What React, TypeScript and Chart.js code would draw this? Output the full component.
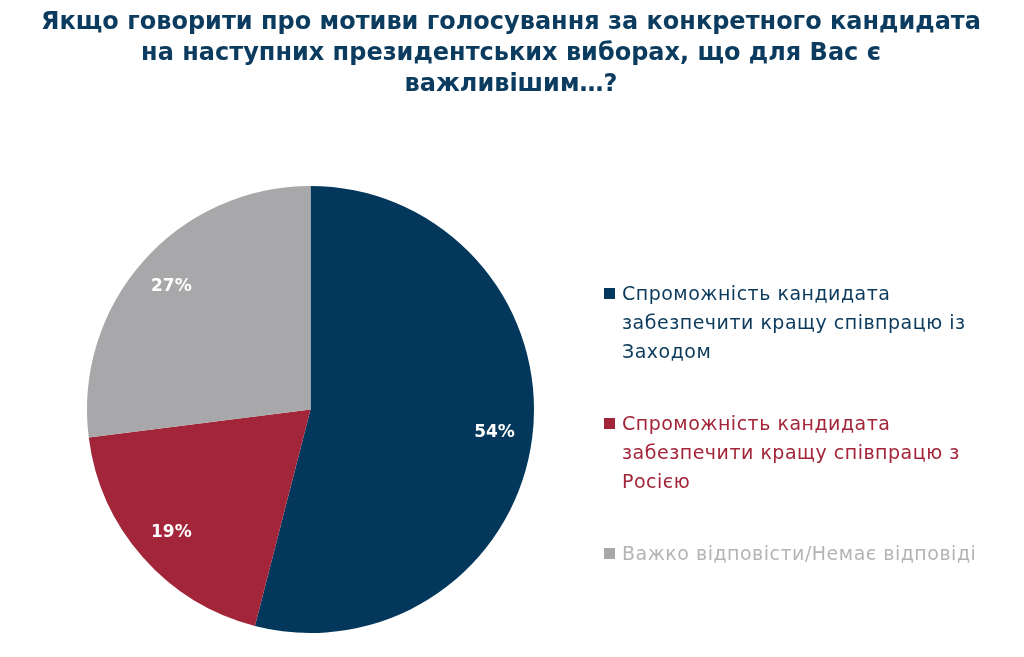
import React, { useEffect, useRef } from "react";
import { Chart, registerables } from "chart.js";

Chart.register(...registerables);

const titleLines = [
  "Якщо говорити про мотиви голосування за конкретного кандидата",
  "на наступних президентських виборах, що для Вас є",
  "важливішим…?",
];
const categories = [
  "Спроможність кандидата забезпечити кращу співпрацю із Заходом",
  "Спроможність кандидата забезпечити кращу співпрацю з Росією",
  "Важко відповісти/Немає відповіді",
];
const values = [54, 19, 27];
const colors = ["#03385C", "#A32539", "#A8A8AA"];
const legendTextColors = ["#0B3A5C", "#A32539", "#B4B4B6"];

const labelPlugin = {
  id: "sliceLabels",
  afterDatasetsDraw(chart: any) {
    const ctx = chart.ctx;
    const meta = chart.getDatasetMeta(0);
    ctx.save();
    ctx.fillStyle = "#FFFFFF";
    ctx.font = "bold 17px 'DejaVu Sans', Verdana, sans-serif";
    ctx.textAlign = "center";
    ctx.textBaseline = "middle";
    meta.data.forEach((arc: any, i: number) => {
      const p = arc.getProps(["x", "y", "startAngle", "endAngle", "outerRadius"], true);
      const mid = (p.startAngle + p.endAngle) / 2;
      const r = p.outerRadius * 0.83;
      ctx.fillText(values[i] + "%", p.x + Math.cos(mid) * r, p.y + Math.sin(mid) * r);
    });
    ctx.restore();
  },
};

export default function App() {
  const ref = useRef<HTMLCanvasElement>(null);
  useEffect(() => {
    if (!ref.current) return;
    const chart = new Chart(ref.current, {
      type: "pie",
      data: {
        labels: categories,
        datasets: [{ data: values, backgroundColor: colors, borderWidth: 0 }],
      },
      options: {
        animation: false,
        responsive: false,
        layout: { padding: { left: 87, right: 490, top: 186, bottom: 24 } },
        plugins: {
          legend: { display: false },
          tooltip: { enabled: false },
          title: { display: false },
        },
      },
      plugins: [labelPlugin],
    });
    return () => chart.destroy();
  }, []);

  return (
    <div style={{ position: "fixed", left: 0, top: 0, width: 1024, height: 657, background: "#fff" }}>
      <canvas ref={ref} width={1024} height={657} style={{ position: "absolute", left: 0, top: 0 }} />
      <div
        style={{
          position: "absolute",
          left: 0,
          top: 6,
          width: 1022,
          textAlign: "center",
          fontFamily: "'DejaVu Sans', Verdana, sans-serif",
          fontWeight: "bold",
          fontSize: 24,
          lineHeight: "31px",
          color: "#0B3B5E",
        }}
      >
        {titleLines.map((t, i) => (
          <div key={i}>{t}</div>
        ))}
      </div>
      <div style={{ position: "absolute", left: 604, top: 279, width: 410, fontFamily: "'DejaVu Sans', Verdana, sans-serif", fontSize: 19, letterSpacing: "0.5px" }}>
        {categories.map((c, i) => (
          <div key={i} style={{ display: "flex", alignItems: "flex-start", marginBottom: 43, color: legendTextColors[i], lineHeight: "29px" }}>
            <span style={{ display: "inline-block", width: 11, height: 11, background: colors[i], marginTop: 9, marginRight: 7, flex: "0 0 auto" }} />
            <span style={{ width: 375 }}>{c}</span>
          </div>
        ))}
      </div>
    </div>
  );
}
